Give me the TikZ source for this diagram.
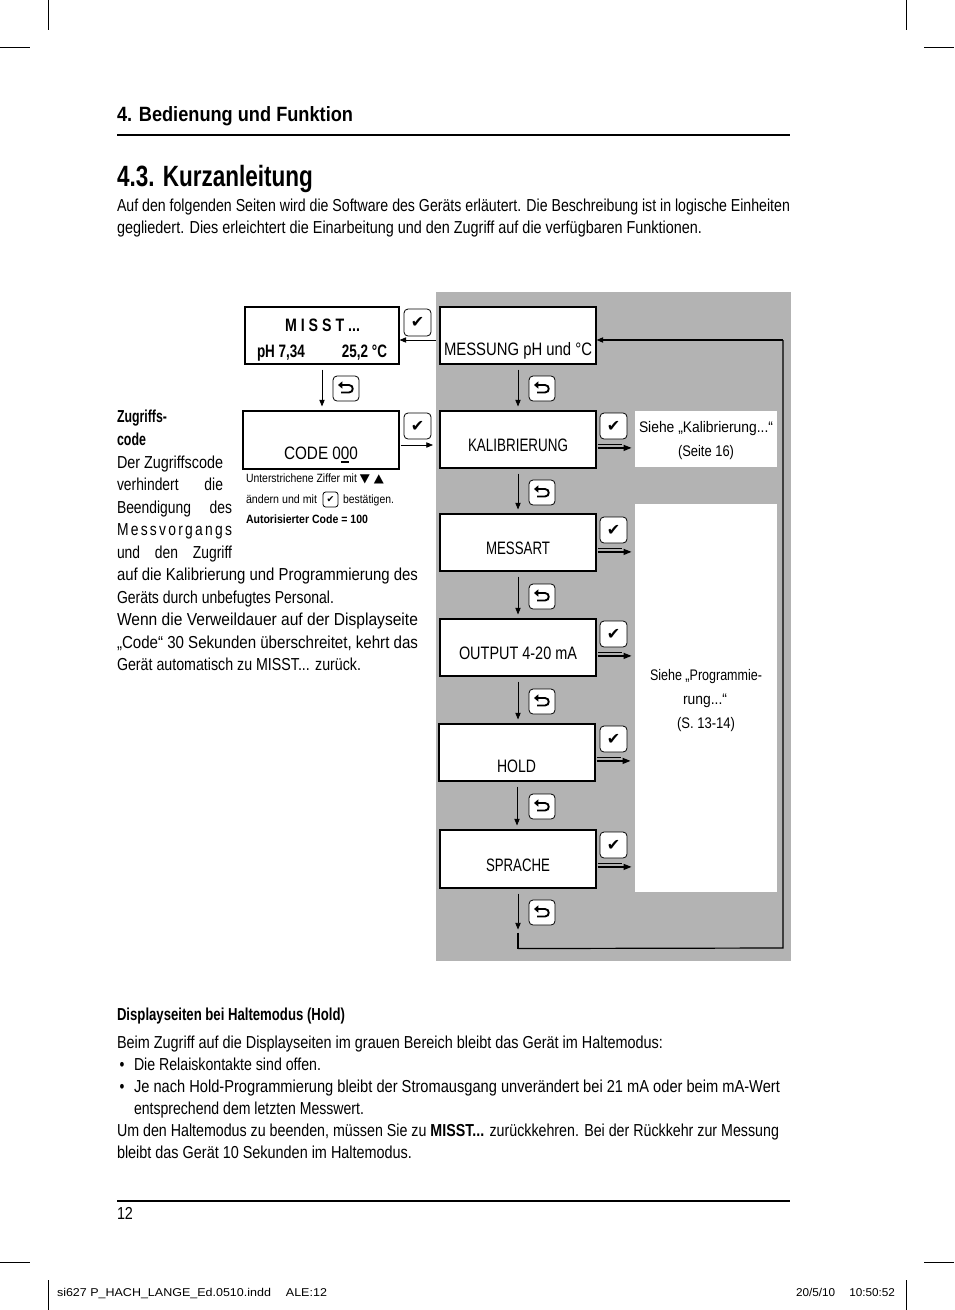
\documentclass[tikz,border=0pt]{standalone}
\usepackage{graphicx}
\usepackage{fontspec}
\setmainfont{Liberation Sans}[FakeStretch=0.8]
\newfontfamily\symf{DejaVu Sans}
\newfontfamily\plainf{Liberation Sans}
\usetikzlibrary{arrows.meta,calc,fit}
\newdimen\px \px=0.75pt
\newsavebox\tbox
\newcommand\fit[2]{\resizebox{#1\px}{\height}{#2}}
\newcommand\jfit[2]{\sbox\tbox{#2}\ifdim\wd\tbox<#1\px\makebox[#1\px][s]{#2}\else\resizebox{#1\px}{\height}{\usebox\tbox}\fi}
\newcommand\ulz[1]{\setbox0\hbox{#1}\rlap{\rule[-3pt]{\wd0}{1.5pt}}\box0\relax}
\newcommand\fbody{\fontsize{13}{15}\selectfont}
\newcommand\fhead{\fontsize{15.5}{18}\selectfont\bfseries}
\newcommand\ftitle{\fontsize{22}{26}\selectfont\bfseries}
\newcommand\flab{\fontsize{13.5}{16}\selectfont}
\newcommand\fsee{\fontsize{11.5}{14}\selectfont}
\newcommand\fsmall{\fontsize{9}{11}\selectfont}
\newcommand\ffoot{\fontsize{8.5}{10}\selectfont\plainf}
\definecolor{zone}{RGB}{179,179,179}
\tikzset{
  txt/.style={anchor=base west, inner sep=0pt, outer sep=0pt},
  disp/.style={draw, line width=0.8pt, fill=white, inner sep=0pt},
  wbox/.style={fill=white, draw=none, inner sep=0pt},
  key/.style={draw, line width=0.6pt, fill=white, rounded corners=3pt, inner sep=0pt},
  glyph/.style={inner sep=0pt, font=\symf\fontsize{12}{12}\selectfont},
  arr/.style={line width=0.6pt, -{Triangle[length=5pt,width=4pt]}},
  dblthin/.style={line width=0.5pt},
  dblthick/.style={line width=1pt, -{Triangle[length=6pt,width=4.5pt]}},
  rethook/.style={line width=1.4pt, -{Triangle[length=3.2pt,width=5.2pt]}},
  crop/.style={line width=0.7pt},
  rulel/.style={line width=0.9pt}
}
\newcommand\checkkey[5]{%
  \node[key, fit={(#2,#3) (#4,#5)}] (#1) {};
  \node[glyph] (#1g) at (#1.center) {✔};}
\newcommand\retkey[5]{%
  \node[key, fit={(#2,#3) (#4,#5)}] (#1) {};
  \draw[rethook] ($(#1.center)+(-5,4)$) -- ($(#1.center)+(3,4)$)
     .. controls ($(#1.center)+(8,4)$) and ($(#1.center)+(8,-3.5)$) .. ($(#1.center)+(3,-3.5)$)
     -- ($(#1.center)+(-8,-3.5)$);}
\begin{document}
\begin{tikzpicture}[x=0.75pt,y=-0.75pt]
\useasboundingbox (0,0) rectangle (954,1310);
\fill[white] (0,0) rectangle (954,1310);
% crop marks
\draw[crop] (48,0) -- (48,30);
\draw[crop] (0,47) -- (30,47);
\draw[crop] (906,0) -- (906,30);
\draw[crop] (924,47) -- (954,47);
\draw[crop] (0,1262) -- (30,1262);
\draw[crop] (924,1262) -- (954,1262);
\draw[crop] (48,1280) -- (48,1310);
\draw[crop] (906,1280) -- (906,1310);
% header
\node[txt] (h1) at (117,121.5) {\fhead\fit{236}{4. Bedienung und Funktion}};
\draw[rulel] (117,135) -- (790,135);
\node[txt] (h2) at (117,186) {\ftitle\fit{196}{4.3. Kurzanleitung}};
\node[txt] (p1) at (117,211) {\fbody\fit{673}{Auf den folgenden Seiten wird die Software des Geräts erläutert. Die Beschreibung ist in logische Einheiten}};
\node[txt] (p2) at (117,233) {\fbody\fit{585}{gegliedert. Dies erleichtert die Einarbeitung und den Zugriff auf die verfügbaren Funktionen.}};
% gray zone
\fill[zone] (436,292) rectangle (791,961);
% white info boxes
\node[wbox, fit={(635,411) (777,467)}] (siehe) {};
\node[wbox, fit={(635,504) (777,892)}] (prog) {};
% display boxes
\node[disp, fit={(245,307) (399,364)}] (misst) {};
\node[disp, fit={(243,411) (399,469)}] (code) {};
\node[disp, fit={(440,307) (596,364)}] (mess) {};
\node[disp, fit={(440,411) (596,468)}] (kal) {};
\node[disp, fit={(440,514) (596,571)}] (mart) {};
\node[disp, fit={(440,619) (596,676)}] (outp) {};
\node[disp, fit={(439,724) (595,781)}] (hold) {};
\node[disp, fit={(440,830) (596,888)}] (spr) {};
% box labels
\node[txt] (tm1) at (285,331) {\flab\bfseries\fit{75}{M I S S T ...}};
\node[txt] (tm2) at (257,357) {\flab\bfseries\fit{130}{pH 7,34\hspace{2.2em}25,2 °C}};
\node[txt] (tcode) at (284,459) {\flab\fit{74}{CODE 0\ulz{0}0}};
\node[txt] (tmess) at (444,355) {\flab\fit{148}{MESSUNG pH und °C}};
\node[txt] (tkal) at (468,451) {\flab\fit{100}{KALIBRIERUNG}};
\node[txt] (tmart) at (486,554) {\flab\fit{64}{MESSART}};
\node[txt] (toutp) at (459,659) {\flab\fit{118}{OUTPUT 4-20 mA}};
\node[txt] (thold) at (497,772) {\flab\fit{39}{HOLD}};
\node[txt] (tspr) at (486,871) {\flab\fit{64}{SPRACHE}};
\node[txt] (ts1) at (639,432) {\fsee\fit{134}{Siehe „Kalibrierung...“}};
\node[txt] (ts2) at (678,456) {\fsee\fit{56}{(Seite 16)}};
\node[txt] (tp1) at (650,680) {\fsee\fit{112}{Siehe „Programmie-}};
\node[txt] (tp2) at (683,704) {\fsee\fit{44}{rung...“}};
\node[txt] (tp3) at (677,728) {\fsee\fit{58}{(S. 13-14)}};
% small notes under CODE
\node[txt] (n1) at (246,482) {\fsmall\fit{138}{Unterstrichene Ziffer mit {\symf ▼ ▲}}};
\node[txt] (n2a) at (246,503) {\fsmall\fit{71}{ändern und mit}};
\node[key, rounded corners=2pt, fit={(323,492) (338,507)}] (nk) {};
\node[inner sep=0pt, font=\symf\fontsize{7}{7}\selectfont] (nkg) at (nk.center) {✔};
\node[txt] (n2b) at (343,503) {\fsmall\fit{51}{bestätigen.}};
\node[txt] (n3) at (246,523) {\fsmall\bfseries\fit{122}{Autorisierter Code = 100}};
% keys
\checkkey{c0}{404}{309}{431}{336}
\checkkey{c1}{404}{413}{431}{439}
\checkkey{c2}{600}{413}{627}{439}
\checkkey{c3}{600}{517}{627}{543}
\checkkey{c4}{600}{621}{627}{647}
\checkkey{c5}{600}{726}{627}{752}
\checkkey{c6}{600}{832}{627}{858}
\retkey{r0}{333}{376}{359}{401}
\retkey{r1}{529}{376}{555}{401}
\retkey{r2}{529}{480}{555}{505}
\retkey{r3}{529}{584}{555}{609}
\retkey{r4}{529}{689}{555}{714}
\retkey{r5}{529}{794}{555}{819}
\retkey{r6}{529}{900}{555}{925}
% vertical flow arrows
\draw[arr] ($(misst.south)+(0,5)$) -- ($(misst.south |- code.north)+(0,-4)$);
\draw[arr] ($(mess.south)+(0,5)$) -- ($(mess.south |- kal.north)+(0,-4)$);
\draw[arr] ($(kal.south)+(0,5)$) -- ($(kal.south |- mart.north)+(0,-4)$);
\draw[arr] ($(mart.south)+(0,5)$) -- ($(mart.south |- outp.north)+(0,-4)$);
\draw[arr] ($(outp.south)+(0,5)$) -- ($(outp.south |- hold.north)+(0,-4)$);
\draw[arr] ($(hold.south)+(0,5)$) -- ($(hold.south |- spr.north)+(0,-4)$);
\coordinate (la) at ($(spr.south)+(0,44)$);
\coordinate (lb) at ($(spr.south)+(0,60)$);
\coordinate (lc) at (783,948);
\coordinate (ld) at (783,340);
\draw[arr] ($(spr.south)+(0,5)$) -- ($(la)+(0,-3)$);
\draw[line width=1.5pt] (la) -- (lb);
\draw[line width=0.9pt] (lb) -- (lc) -- (ld);
\draw[line width=0.8pt, -{Triangle[length=5pt,width=4pt]}] (ld) -- (mess.east |- ld);
% side arrows on left chain
\coordinate (misstin) at (436,340);
\draw[arr] (misstin) -- (misst.east |- misstin);
\coordinate (codeout) at (433,445);
\draw[arr] ($(code.east |- codeout)+(1,0)$) -- (codeout);
% double arrows
\foreach \b/\c in {kal/c2, mart/c3, outp/c4, hold/c5, spr/c6}{
  \draw[dblthin] ($(\b.east |- \c.south)+(1,5)$) -- ++(24,0);
  \draw[dblthick] ($(\b.east |- \c.south)+(1,8.5)$) -- ++(34,0);
}
% left explanatory text
\node[txt] (z1) at (117,422) {\fbody\bfseries\fit{50}{Zugriffs-}};
\node[txt] (z2) at (117,445) {\fbody\bfseries\fit{29}{code}};
\node[txt] (z3) at (117,468) {\fbody\fit{106}{Der Zugriffscode}};
\node[txt] (z4) at (117,490) {\fbody\jfit{106}{verhindert die}};
\node[txt] (z5) at (117,513) {\fbody\jfit{115}{Beendigung des}};
\node[txt] (z6) at (117,535) {\fbody\makebox[115\px][s]{M\hfil e\hfil s\hfil s\hfil v\hfil o\hfil r\hfil g\hfil a\hfil n\hfil g\hfil s}};
\node[txt] (z7) at (117,558) {\fbody\jfit{115}{und den Zugriff}};
\node[txt] (z8) at (117,580) {\fbody\fit{301}{auf die Kalibrierung und Programmierung des}};
\node[txt] (z9) at (117,603) {\fbody\fit{217}{Geräts durch unbefugtes Personal.}};
\node[txt] (z10) at (117,625) {\fbody\fit{301}{Wenn die Verweildauer auf der Displayseite}};
\node[txt] (z11) at (117,648) {\fbody\fit{301}{„Code“ 30 Sekunden überschreitet, kehrt das}};
\node[txt] (z12) at (117,670) {\fbody\fit{244}{Gerät automatisch zu MISST... zurück.}};
% bottom text
\node[txt] (b0) at (117,1020) {\fbody\bfseries\fit{228}{Displayseiten bei Haltemodus (Hold)}};
\node[txt] (b1) at (117,1048) {\fbody\fit{546}{Beim Zugriff auf die Displayseiten im grauen Bereich bleibt das Gerät im Haltemodus:}};
\node[txt] (b2d) at (119.5,1070) {\fbody •};
\node[txt] (b2) at (134,1070) {\fbody\fit{187}{Die Relaiskontakte sind offen.}};
\node[txt] (b3d) at (119.5,1092) {\fbody •};
\node[txt] (b3) at (134,1092) {\fbody\fit{646}{Je nach Hold-Programmierung bleibt der Stromausgang unverändert bei 21 mA oder beim mA-Wert}};
\node[txt] (b4) at (134,1114) {\fbody\fit{230}{entsprechend dem letzten Messwert.}};
\node[txt] (b5) at (117,1136) {\fbody\fit{662}{Um den Haltemodus zu beenden, müssen Sie zu \textbf{MISST...} zurückkehren. Bei der Rückkehr zur Messung}};
\node[txt] (b6) at (117,1158) {\fbody\fit{295}{bleibt das Gerät 10 Sekunden im Haltemodus.}};
% footer
\draw[rulel] (117,1201) -- (790,1201);
\node[txt] (pg) at (117,1219) {\fbody\fit{16}{12}};
\node[txt] (f1) at (57,1296) {\ffoot\fit{270}{si627 P\_HACH\_LANGE\_Ed.0510.indd\hspace{1.2em}ALE:12}};
\node[txt] (f2) at (796,1296) {\ffoot\fit{99}{20/5/10\hspace{1.2em}10:50:52}};
\end{tikzpicture}
\end{document}
